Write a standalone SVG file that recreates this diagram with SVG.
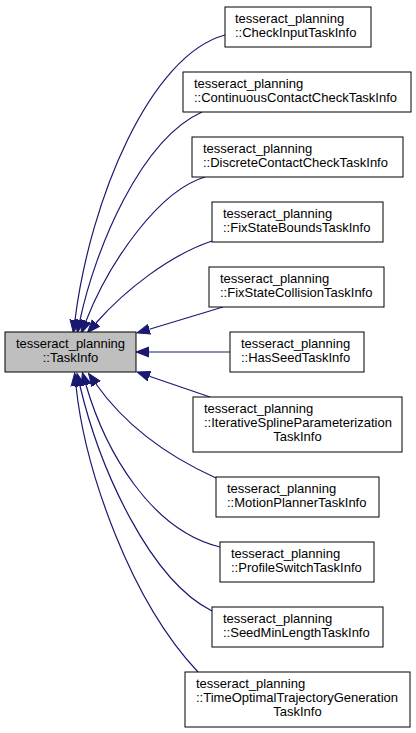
<svg xmlns="http://www.w3.org/2000/svg" width="416" height="733" viewBox="0 0 416 733">
<style>
.n rect{fill:#fff;stroke:#000;stroke-width:1}
.n.base rect{fill:#bfbfbf}
.n text{font-family:"Liberation Sans",Arial,Helvetica,sans-serif;font-size:13px;fill:#000}
.m{text-anchor:middle}
#edges path{fill:none;stroke:#191970;stroke-width:1.2;marker-end:url(#ah)}
</style>
<defs>
<marker id="ah" markerUnits="userSpaceOnUse" markerWidth="14" markerHeight="12" viewBox="0 -6 14 12" refX="0" refY="0" orient="auto">
<path d="M0,-5 L13,0 L0,5 z" fill="#191970" stroke="#191970" stroke-width="1"/>
</marker>
</defs>
<rect width="416" height="733" fill="#fff"/>
<g id="edges">
<path d="M225,35 C150,55 90,200 75,320"/>
<path d="M202,112 C140,140 95,250 80,320"/>
<path d="M205,177 C160,190 110,260 86,321"/>
<path d="M212,241 C170,255 125,290 96,323"/>
<path d="M223,307 L149.4,329.2"/>
<path d="M230,352 L149,352"/>
<path d="M210,397 L149.3,376.2"/>
<path d="M216,478 C165,455 125,425 96,384"/>
<path d="M220,547 C150,530 105,450 86,385"/>
<path d="M212,611 C150,580 100,470 80,386"/>
<path d="M198,672 C130,600 85,470 76,386"/>
</g>
<g id="TaskInfo" class="n base">
<rect x="5" y="332" width="131" height="40"/>
<text class="m" x="70.5" y="348">tesseract_planning</text>
<text class="m" x="70.5" y="362">::TaskInfo</text>
</g>
<g id="CheckInputTaskInfo" class="n">
<rect x="225" y="7" width="146" height="40"/>
<text x="235" y="23">tesseract_planning</text>
<text x="235" y="37">::CheckInputTaskInfo</text>
</g>
<g id="ContinuousContactCheckTaskInfo" class="n">
<rect x="183" y="72" width="228" height="40"/>
<text x="194" y="88">tesseract_planning</text>
<text x="194" y="102">::ContinuousContactCheckTaskInfo</text>
</g>
<g id="DiscreteContactCheckTaskInfo" class="n">
<rect x="192" y="137" width="211" height="40"/>
<text x="203" y="153">tesseract_planning</text>
<text x="203" y="167">::DiscreteContactCheckTaskInfo</text>
</g>
<g id="FixStateBoundsTaskInfo" class="n">
<rect x="212" y="202" width="171" height="40"/>
<text x="223" y="218">tesseract_planning</text>
<text x="223" y="232">::FixStateBoundsTaskInfo</text>
</g>
<g id="FixStateCollisionTaskInfo" class="n">
<rect x="209" y="267" width="175" height="40"/>
<text x="220" y="283">tesseract_planning</text>
<text x="220" y="297">::FixStateCollisionTaskInfo</text>
</g>
<g id="HasSeedTaskInfo" class="n">
<rect x="230" y="332" width="134" height="40"/>
<text x="241" y="348">tesseract_planning</text>
<text x="241" y="362">::HasSeedTaskInfo</text>
</g>
<g id="IterativeSplineParameterizationTaskInfo" class="n">
<rect x="193" y="397" width="209" height="55"/>
<text x="204" y="413">tesseract_planning</text>
<text x="204" y="427">::IterativeSplineParameterization</text>
<text class="m" x="297.5" y="441">TaskInfo</text>
</g>
<g id="MotionPlannerTaskInfo" class="n">
<rect x="216" y="477" width="163" height="40"/>
<text x="227" y="493">tesseract_planning</text>
<text x="227" y="507">::MotionPlannerTaskInfo</text>
</g>
<g id="ProfileSwitchTaskInfo" class="n">
<rect x="220" y="542" width="154" height="40"/>
<text x="231" y="558">tesseract_planning</text>
<text x="231" y="572">::ProfileSwitchTaskInfo</text>
</g>
<g id="SeedMinLengthTaskInfo" class="n">
<rect x="212" y="607" width="171" height="40"/>
<text x="223" y="623">tesseract_planning</text>
<text x="223" y="637">::SeedMinLengthTaskInfo</text>
</g>
<g id="TimeOptimalTrajectoryGenerationTaskInfo" class="n">
<rect x="185" y="672" width="225" height="55"/>
<text x="196" y="688">tesseract_planning</text>
<text x="196" y="702">::TimeOptimalTrajectoryGeneration</text>
<text class="m" x="297.5" y="716">TaskInfo</text>
</g>
</svg>
